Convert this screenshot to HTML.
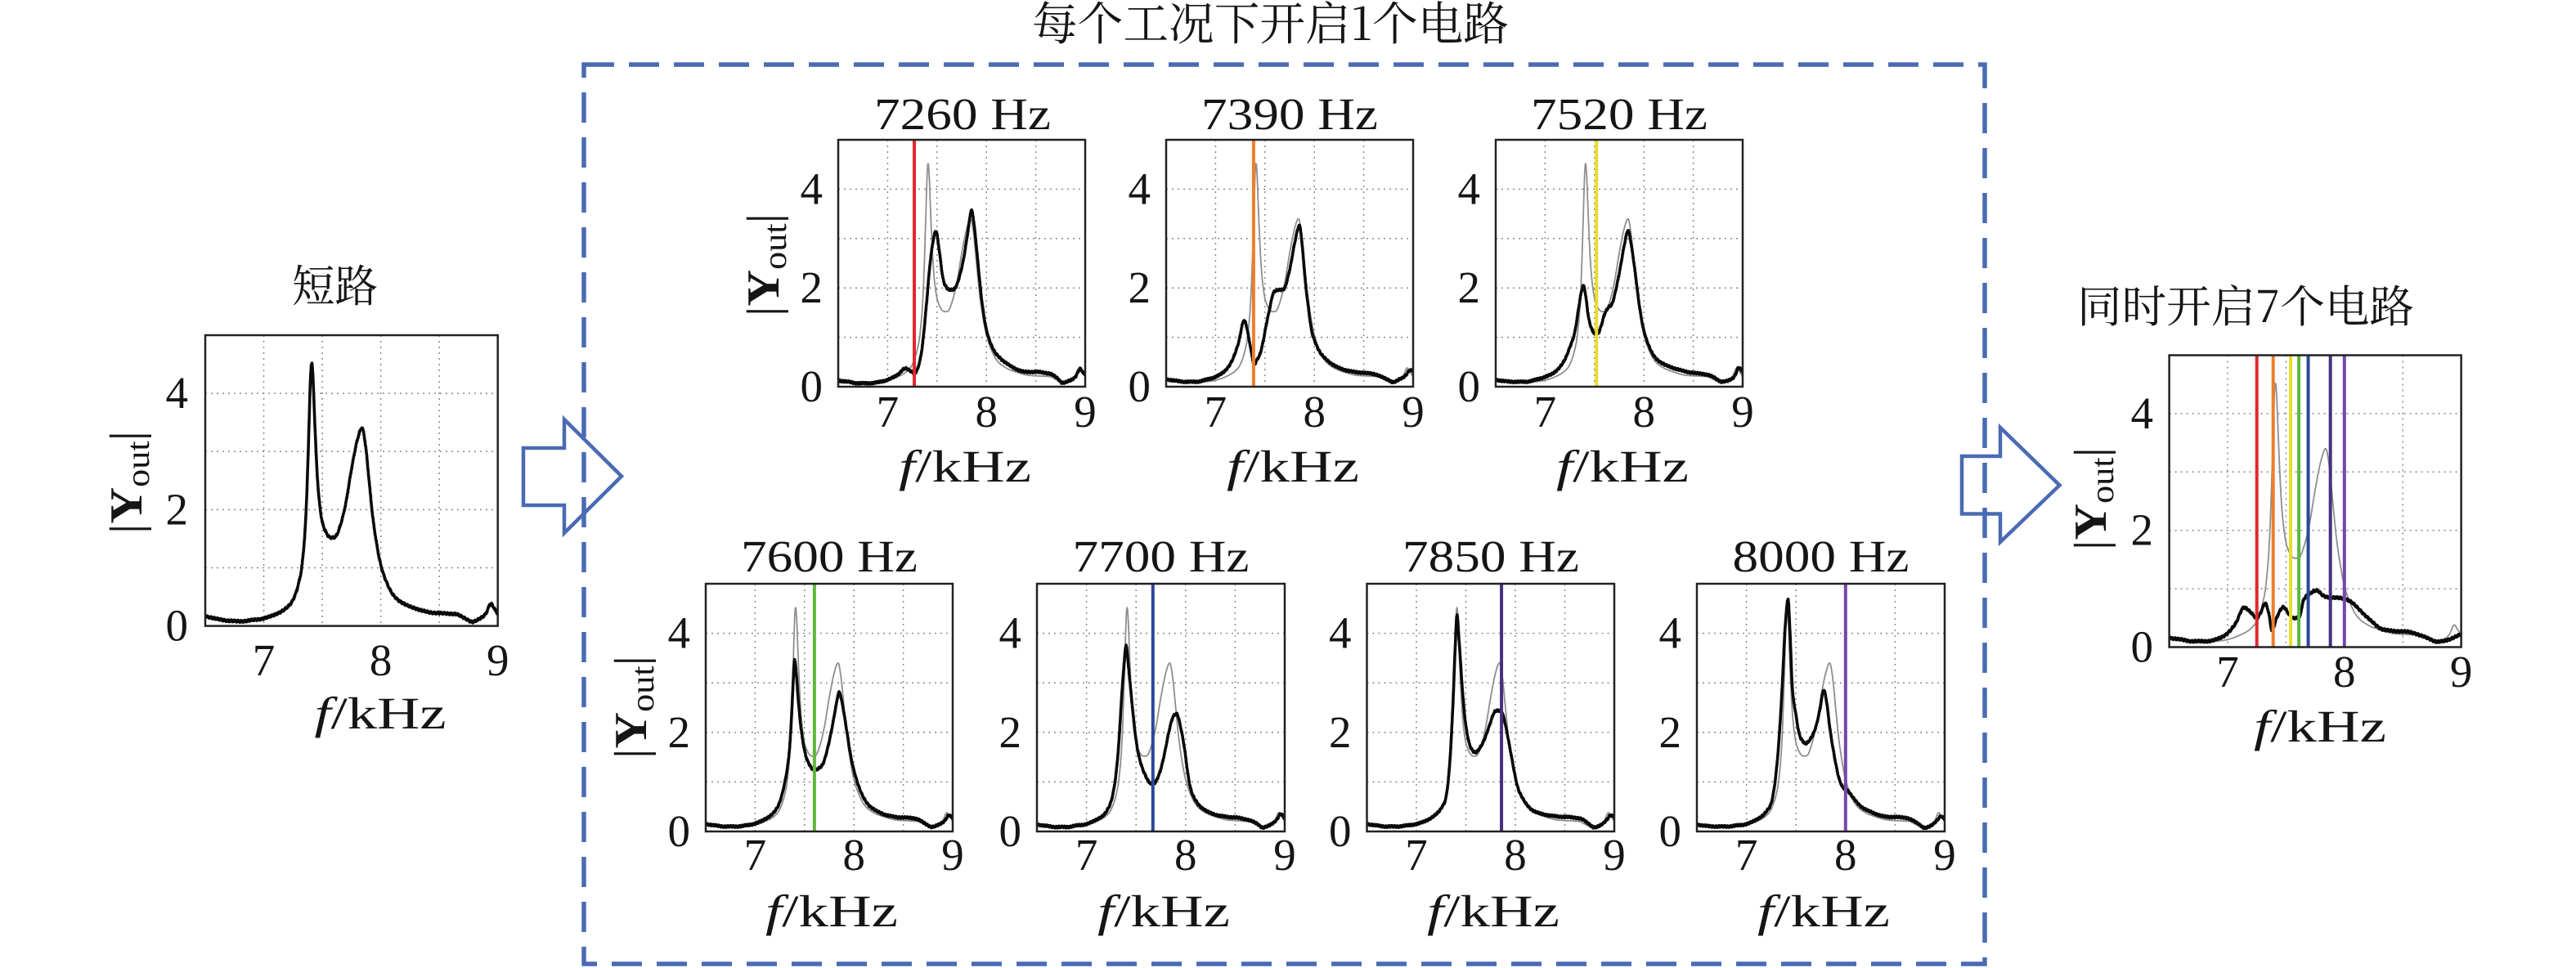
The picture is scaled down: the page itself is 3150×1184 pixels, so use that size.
<!DOCTYPE html>
<html><head><meta charset="utf-8">
<style>html,body{margin:0;padding:0;background:#fff;}svg{display:block}</style>
</head><body>
<svg id="c" width="3150" height="1184" viewBox="0 0 3150 1184" xmlns="http://www.w3.org/2000/svg">
<defs id="defs"></defs>
<rect x="0" y="0" width="3150" height="1184" fill="#fff"/>
<rect x="714" y="79" width="1713" height="1100" fill="none" stroke="#4a6bb3" stroke-width="5.5" stroke-dasharray="37 18"/>
<polygon points="640,548 690,548 690,513 760,582.5 690,652 690,618 640,618" fill="none" stroke="#4a6bb3" stroke-width="4.5" stroke-linejoin="miter"/>
<polygon points="2399,558 2446,558 2446,523 2518.5,593.5 2446,663 2446,628.5 2399,628.5" fill="none" stroke="#4a6bb3" stroke-width="4.5" stroke-linejoin="miter"/>
<g id="plots"></g>

<g font-family="'Liberation Serif','Noto Serif CJK SC',serif" fill="#151515">
<text x="1262" y="49" font-family="'Noto Serif CJK SC','Liberation Serif',serif" font-size="56" textLength="583" lengthAdjust="spacingAndGlyphs">每个工况下开启1个电路</text>
<text x="357" y="369" font-family="'Noto Serif CJK SC',serif" font-size="54" textLength="105" lengthAdjust="spacingAndGlyphs">短路</text>
<text x="2540" y="394" font-family="'Noto Serif CJK SC','Liberation Serif',serif" font-size="54" textLength="412" lengthAdjust="spacingAndGlyphs">同时开启7个电路</text>
</g>

<g font-family="'Liberation Serif',serif" font-size="55" fill="#151515">
<!-- titles -->
<g text-anchor="middle">
<text x="1177" y="158" textLength="216" lengthAdjust="spacingAndGlyphs">7260 Hz</text>
<text x="1577" y="158" textLength="216" lengthAdjust="spacingAndGlyphs">7390 Hz</text>
<text x="1980" y="158" textLength="216" lengthAdjust="spacingAndGlyphs">7520 Hz</text>
<text x="1014" y="699" textLength="216" lengthAdjust="spacingAndGlyphs">7600 Hz</text>
<text x="1419.5" y="699" textLength="216" lengthAdjust="spacingAndGlyphs">7700 Hz</text>
<text x="1823" y="699" textLength="216" lengthAdjust="spacingAndGlyphs">7850 Hz</text>
<text x="2226.5" y="699" textLength="216" lengthAdjust="spacingAndGlyphs">8000 Hz</text>
</g>
<!-- x tick labels -->
<g text-anchor="middle">
<text x="322.5" y="826">7</text><text x="465.6" y="826">8</text><text x="608.7" y="826">9</text>
<text x="1085.4" y="522">7</text><text x="1206.2" y="522">8</text><text x="1327" y="522">9</text>
<text x="1486.4" y="522">7</text><text x="1607.2" y="522">8</text><text x="1728" y="522">9</text>
<text x="1889.4" y="522">7</text><text x="2010.2" y="522">8</text><text x="2131" y="522">9</text>
<text x="923.4" y="1064">7</text><text x="1044.2" y="1064">8</text><text x="1165" y="1064">9</text>
<text x="1328.6" y="1064">7</text><text x="1449.8" y="1064">8</text><text x="1571" y="1064">9</text>
<text x="1732" y="1064">7</text><text x="1853" y="1064">8</text><text x="1974" y="1064">9</text>
<text x="2135.6" y="1064">7</text><text x="2256.8" y="1064">8</text><text x="2378" y="1064">9</text>
<text x="2724" y="840">7</text><text x="2866.8" y="840">8</text><text x="3009.6" y="840">9</text>
</g>
<!-- y tick labels -->
<g text-anchor="end">
<text x="230" y="783.6">0</text><text x="230" y="641.4">2</text><text x="230" y="499.1">4</text>
<text x="1006" y="491">0</text><text x="1006" y="370.2">2</text><text x="1006" y="249.4">4</text>
<text x="1407" y="491">0</text><text x="1407" y="370.2">2</text><text x="1407" y="249.4">4</text>
<text x="1810" y="491">0</text><text x="1810" y="370.2">2</text><text x="1810" y="249.4">4</text>
<text x="844" y="1035">0</text><text x="844" y="913.8">2</text><text x="844" y="792.6">4</text>
<text x="1249" y="1035">0</text><text x="1249" y="913.8">2</text><text x="1249" y="792.6">4</text>
<text x="1652.5" y="1035">0</text><text x="1652.5" y="913.8">2</text><text x="1652.5" y="792.6">4</text>
<text x="2056" y="1035">0</text><text x="2056" y="913.8">2</text><text x="2056" y="792.6">4</text>
<text x="2633" y="809.5">0</text><text x="2633" y="666.7">2</text><text x="2633" y="523.9">4</text>
</g>
<!-- x labels -->
<g text-anchor="middle">
<text x="465" y="891" textLength="161" lengthAdjust="spacingAndGlyphs"><tspan font-style="italic">f</tspan>/kHz</text>
<text x="1180" y="589" textLength="162" lengthAdjust="spacingAndGlyphs"><tspan font-style="italic">f</tspan>/kHz</text>
<text x="1581" y="589" textLength="162" lengthAdjust="spacingAndGlyphs"><tspan font-style="italic">f</tspan>/kHz</text>
<text x="1984" y="589" textLength="162" lengthAdjust="spacingAndGlyphs"><tspan font-style="italic">f</tspan>/kHz</text>
<text x="1017" y="1133" textLength="162" lengthAdjust="spacingAndGlyphs"><tspan font-style="italic">f</tspan>/kHz</text>
<text x="1423" y="1133" textLength="162" lengthAdjust="spacingAndGlyphs"><tspan font-style="italic">f</tspan>/kHz</text>
<text x="1826" y="1133" textLength="162" lengthAdjust="spacingAndGlyphs"><tspan font-style="italic">f</tspan>/kHz</text>
<text x="2230" y="1133" textLength="162" lengthAdjust="spacingAndGlyphs"><tspan font-style="italic">f</tspan>/kHz</text>
<text x="2837" y="907" textLength="162" lengthAdjust="spacingAndGlyphs"><tspan font-style="italic">f</tspan>/kHz</text>
</g>
<!-- y labels -->
<g text-anchor="middle" font-size="56">
<text transform="translate(173,590) rotate(-90)" textLength="126" lengthAdjust="spacingAndGlyphs">|<tspan font-weight="bold">Y</tspan><tspan font-size="40" dy="9">out</tspan><tspan dy="-9">|</tspan></text>
<text transform="translate(952,324) rotate(-90)" textLength="126" lengthAdjust="spacingAndGlyphs">|<tspan font-weight="bold">Y</tspan><tspan font-size="40" dy="9">out</tspan><tspan dy="-9">|</tspan></text>
<text transform="translate(790,865) rotate(-90)" textLength="126" lengthAdjust="spacingAndGlyphs">|<tspan font-weight="bold">Y</tspan><tspan font-size="40" dy="9">out</tspan><tspan dy="-9">|</tspan></text>
<text transform="translate(2575,610) rotate(-90)" textLength="126" lengthAdjust="spacingAndGlyphs">|<tspan font-weight="bold">Y</tspan><tspan font-size="40" dy="9">out</tspan><tspan dy="-9">|</tspan></text>
</g>
</g>
</svg>
<script>
(function(){
const NS="http://www.w3.org/2000/svg";
const G=document.getElementById('plots');
const defs=document.getElementById('defs');
function el(tag,attrs,parent){const e=document.createElementNS(NS,tag);for(const k in attrs)e.setAttribute(k,attrs[k]);(parent||G).appendChild(e);return e;}
function interp(pts){
  const n=pts.length,xs=pts.map(p=>p[0]),ys=pts.map(p=>p[1]);
  const d=[],m=new Array(n);
  for(let i=0;i<n-1;i++)d.push((ys[i+1]-ys[i])/(xs[i+1]-xs[i]));
  m[0]=d[0];m[n-1]=d[n-2];
  for(let i=1;i<n-1;i++){m[i]=(d[i-1]*d[i]<=0)?0:(d[i-1]+d[i])/2;}
  for(let i=0;i<n-1;i++){
    if(d[i]===0){m[i]=0;m[i+1]=0;continue;}
    const a=m[i]/d[i],b=m[i+1]/d[i],s=a*a+b*b;
    if(s>9){const t=3/Math.sqrt(s);m[i]=t*a*d[i];m[i+1]=t*b*d[i];}
  }
  return function(x){
    let i=0;while(i<n-2&&x>xs[i+1])i++;
    const h=xs[i+1]-xs[i],t=(x-xs[i])/h,t2=t*t,t3=t2*t;
    return (2*t3-3*t2+1)*ys[i]+(t3-2*t2+t)*h*m[i]+(-2*t3+3*t2)*ys[i+1]+(t3-t2)*h*m[i+1];
  };
}
const B=[[6.5,0.17],[6.6,0.12],[6.7,0.09],[6.8,0.08],[6.9,0.1],[7.0,0.13],[7.1,0.2],[7.2,0.32],[7.25,0.45],[7.3,0.75],[7.33,1.1],[7.36,1.9],[7.38,3.0],[7.40,4.3],[7.41,4.52],[7.42,4.3],[7.44,3.3],[7.46,2.5],[7.49,1.9],[7.53,1.62],[7.58,1.52],[7.61,1.53],[7.65,1.7],[7.7,2.1],[7.75,2.7],[7.8,3.2],[7.84,3.4],[7.87,3.1],[7.9,2.5],[7.93,1.9],[7.97,1.35],[8.0,1.05],[8.05,0.75],[8.1,0.55],[8.2,0.38],[8.3,0.3],[8.4,0.24],[8.5,0.22],[8.6,0.21],[8.65,0.2],[8.7,0.15],[8.75,0.1],[8.78,0.07],[8.85,0.13],[8.9,0.22],[8.94,0.38],[8.97,0.3],[9.0,0.2]];
const T1=[[6.5,0.12],[6.6,0.1],[6.7,0.07],[6.8,0.07],[6.9,0.09],[7.0,0.14],[7.1,0.24],[7.18,0.37],[7.23,0.32],[7.27,0.28],[7.31,0.4],[7.35,0.8],[7.39,1.6],[7.43,2.5],[7.47,3.05],[7.49,3.15],[7.52,2.8],[7.56,2.2],[7.6,2.0],[7.64,1.96],[7.69,2.02],[7.73,2.25],[7.77,2.6],[7.81,3.1],[7.85,3.57],[7.88,3.2],[7.91,2.6],[7.95,1.8],[7.99,1.25],[8.03,0.95],[8.08,0.72],[8.14,0.58],[8.2,0.48],[8.3,0.36],[8.4,0.3],[8.5,0.3],[8.6,0.28],[8.66,0.25],[8.72,0.17],[8.77,0.08],[8.84,0.12],[8.9,0.2],[8.95,0.36],[8.98,0.28],[9.0,0.25]];
const T2=[[6.5,0.15],[6.6,0.12],[6.7,0.1],[6.8,0.1],[6.9,0.14],[7.0,0.2],[7.1,0.33],[7.16,0.5],[7.2,0.69],[7.24,0.95],[7.27,1.25],[7.29,1.34],[7.31,1.25],[7.34,0.95],[7.37,0.62],[7.39,0.45],[7.42,0.55],[7.45,0.66],[7.48,0.9],[7.51,1.22],[7.55,1.6],[7.58,1.87],[7.62,1.95],[7.66,1.96],[7.70,2.0],[7.73,2.2],[7.76,2.46],[7.80,2.9],[7.85,3.26],[7.88,2.8],[7.91,2.11],[7.94,1.6],[7.97,1.16],[8.01,0.9],[8.06,0.69],[8.14,0.52],[8.23,0.4],[8.35,0.32],[8.5,0.28],[8.6,0.26],[8.68,0.2],[8.75,0.14],[8.8,0.09],[8.86,0.15],[8.92,0.22],[8.97,0.33],[9.0,0.32]];
const T3=[[6.5,0.14],[6.6,0.11],[6.7,0.1],[6.8,0.1],[6.9,0.14],[7.0,0.2],[7.1,0.3],[7.2,0.55],[7.25,0.8],[7.3,1.1],[7.34,1.6],[7.37,1.95],[7.39,2.04],[7.41,1.85],[7.44,1.4],[7.47,1.18],[7.5,1.08],[7.53,1.07],[7.57,1.25],[7.6,1.46],[7.64,1.6],[7.68,1.69],[7.72,2.0],[7.76,2.4],[7.8,2.85],[7.84,3.16],[7.87,2.9],[7.91,2.34],[7.95,1.7],[7.99,1.22],[8.04,0.88],[8.1,0.63],[8.2,0.46],[8.3,0.38],[8.4,0.32],[8.5,0.28],[8.6,0.26],[8.7,0.2],[8.75,0.14],[8.79,0.1],[8.86,0.13],[8.92,0.22],[8.96,0.38],[9.0,0.3]];
const B1=[[6.5,0.15],[6.6,0.12],[6.7,0.1],[6.8,0.1],[6.9,0.12],[7.0,0.16],[7.1,0.25],[7.2,0.41],[7.25,0.6],[7.31,1.09],[7.34,1.5],[7.36,2.0],[7.38,2.8],[7.40,3.47],[7.42,3.1],[7.44,2.57],[7.47,2.0],[7.51,1.55],[7.55,1.35],[7.6,1.24],[7.65,1.28],[7.69,1.38],[7.73,1.65],[7.78,2.11],[7.82,2.55],[7.85,2.81],[7.88,2.6],[7.93,2.0],[7.97,1.5],[8.02,1.09],[8.07,0.8],[8.13,0.58],[8.2,0.45],[8.3,0.35],[8.4,0.3],[8.5,0.28],[8.6,0.27],[8.67,0.22],[8.73,0.15],[8.79,0.09],[8.86,0.14],[8.92,0.22],[8.96,0.32],[9.0,0.28]];
const B2=[[6.5,0.14],[6.6,0.11],[6.7,0.09],[6.8,0.09],[6.9,0.12],[7.0,0.15],[7.1,0.24],[7.2,0.4],[7.26,0.7],[7.3,1.2],[7.33,1.9],[7.35,2.57],[7.38,3.4],[7.40,3.76],[7.42,3.4],[7.46,2.57],[7.49,2.0],[7.52,1.6],[7.56,1.3],[7.59,1.15],[7.63,1.0],[7.67,0.95],[7.71,1.05],[7.75,1.26],[7.79,1.6],[7.83,2.0],[7.87,2.3],[7.91,2.37],[7.95,2.1],[7.99,1.66],[8.02,1.2],[8.05,0.87],[8.11,0.6],[8.19,0.44],[8.3,0.34],[8.4,0.3],[8.55,0.27],[8.65,0.22],[8.72,0.16],[8.78,0.08],[8.85,0.13],[8.92,0.24],[8.96,0.35],[9.0,0.26]];
const B3=[[6.5,0.15],[6.6,0.12],[6.7,0.1],[6.8,0.1],[6.9,0.12],[7.0,0.15],[7.1,0.22],[7.2,0.35],[7.26,0.5],[7.3,0.7],[7.33,1.2],[7.35,1.8],[7.37,2.6],[7.39,3.6],[7.41,4.37],[7.43,3.9],[7.46,3.0],[7.49,2.3],[7.53,1.81],[7.57,1.63],[7.6,1.6],[7.64,1.68],[7.69,1.87],[7.74,2.15],[7.79,2.41],[7.83,2.44],[7.87,2.38],[7.9,2.15],[7.95,1.63],[7.99,1.2],[8.02,0.92],[8.08,0.65],[8.16,0.45],[8.3,0.34],[8.45,0.3],[8.6,0.28],[8.68,0.24],[8.74,0.16],[8.8,0.08],[8.87,0.14],[8.93,0.25],[8.96,0.32],[9.0,0.3]];
const B4=[[6.5,0.14],[6.6,0.11],[6.7,0.1],[6.8,0.1],[6.9,0.12],[7.0,0.15],[7.1,0.24],[7.2,0.4],[7.26,0.65],[7.3,1.2],[7.33,1.9],[7.36,2.9],[7.39,4.1],[7.42,4.68],[7.44,4.0],[7.46,3.0],[7.5,2.35],[7.53,1.99],[7.57,1.82],[7.6,1.78],[7.64,1.85],[7.7,2.11],[7.74,2.45],[7.78,2.85],[7.81,2.6],[7.84,2.11],[7.88,1.6],[7.93,1.1],[7.97,0.9],[8.02,0.83],[8.08,0.67],[8.16,0.5],[8.3,0.36],[8.4,0.3],[8.6,0.28],[8.68,0.22],[8.74,0.15],[8.8,0.07],[8.87,0.13],[8.93,0.24],[8.96,0.3],[9.0,0.25]];
const R=[[6.5,0.16],[6.6,0.13],[6.7,0.1],[6.8,0.1],[6.9,0.13],[7.0,0.24],[7.07,0.41],[7.14,0.68],[7.2,0.59],[7.25,0.5],[7.29,0.62],[7.32,0.75],[7.35,0.6],[7.38,0.29],[7.42,0.5],[7.46,0.66],[7.48,0.68],[7.52,0.58],[7.56,0.5],[7.61,0.5],[7.65,0.8],[7.70,0.91],[7.76,0.97],[7.82,0.88],[7.89,0.85],[8.0,0.83],[8.06,0.77],[8.12,0.66],[8.17,0.56],[8.24,0.43],[8.31,0.32],[8.4,0.28],[8.48,0.27],[8.58,0.25],[8.65,0.2],[8.72,0.15],[8.8,0.09],[8.86,0.11],[8.92,0.15],[9.0,0.22]];
const C={red:'#e0282c',orange:'#ef7d2c',yellow:'#e4df2e',green:'#5db83a',blue:'#2b479c',indigo:'#46307e',purple:'#7446aa'};
let cid=0;
function drawPlot(b,black,gray,vl){
  const x0=b[0],y0=b[1],w=b[2],h=b[3];
  const px=f=>x0+(f-6.5)/2.5*w, py=v=>y0+h-v/5*h;
  const id='cp'+(cid++);
  const cp=el('clipPath',{id:id},defs);el('rect',{x:x0,y:y0,width:w,height:h},cp);
  const g=el('g',{'clip-path':'url(#'+id+')'});
  for(const f of [7,7.5,8,8.5])el('line',{x1:px(f),x2:px(f),y1:y0,y2:y0+h,stroke:'#8a8a8a','stroke-width':1.5,'stroke-dasharray':'2 5'},g);
  for(const v of [1,2,3,4])el('line',{x1:x0,x2:x0+w,y1:py(v),y2:py(v),stroke:'#8a8a8a','stroke-width':1.5,'stroke-dasharray':'2 5'},g);
  function curve(pts,color,sw,amp){
    const fn=interp(pts);let d='';
    for(let f=6.5;f<=9.0001;f+=0.003){
      let v=fn(f);
      if(amp)v+=amp*(0.6*Math.sin(f*917.3)+0.4*Math.sin(f*2311.7+0.5));
      d+=(d?'L':'M')+px(f).toFixed(1)+' '+py(v).toFixed(1);
    }
    el('path',{d:d,fill:'none',stroke:color,'stroke-width':sw,'stroke-linejoin':'round'},g);
  }
  if(gray)curve(gray,'#8e8e8e',1.8,0);
  curve(black,'#0a0a0a',3.6,0.022);
  for(const [f,c] of vl)el('line',{x1:px(f),x2:px(f),y1:y0,y2:y0+h,stroke:c,'stroke-width':4},g);
  el('rect',{x:x0,y:y0,width:w,height:h,fill:'none',stroke:'#222','stroke-width':2.5});
}
drawPlot([251,410,357.7,355.6],B,null,[]);
drawPlot([1025,171,302,302],T1,B,[[7.27,C.red]]);
drawPlot([1426,171,302,302],T2,B,[[7.385,C.orange]]);
drawPlot([1829,171,302,302],T3,B,[[7.52,C.yellow]]);
drawPlot([863,714,302,303],B1,B,[[7.6,C.green]]);
drawPlot([1268,714,303,303],B2,B,[[7.67,C.blue]]);
drawPlot([1671.5,714,302.5,303],B3,B,[[7.86,C.indigo]]);
drawPlot([2075,714,303,303],B4,B,[[8.0,C.purple]]);
drawPlot([2652.6,434.5,357,357],R,B,[[7.25,C.red],[7.39,C.orange],[7.54,C.yellow],[7.61,C.green],[7.69,C.blue],[7.88,C.indigo],[8.0,C.purple]]);
})();
</script>
</body></html>
